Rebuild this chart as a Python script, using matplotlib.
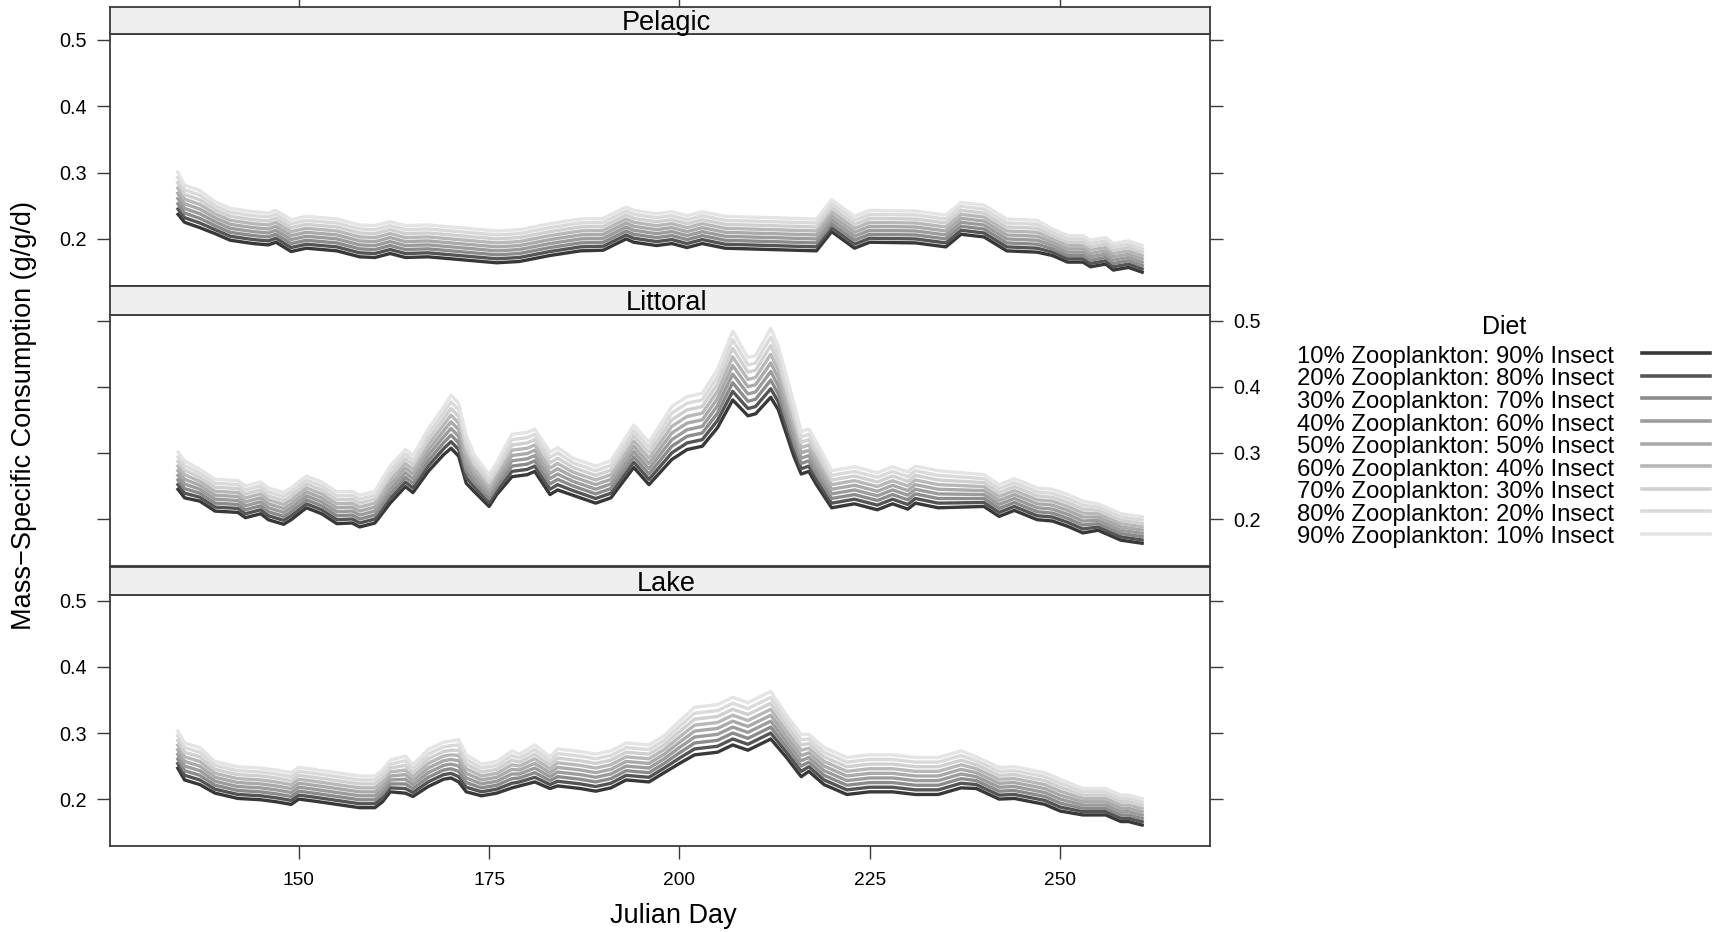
import numpy as np
import matplotlib
matplotlib.use('Agg')
import matplotlib.pyplot as plt
from matplotlib.lines import Line2D

plt.rcParams['font.family'] = ['Liberation Sans', 'DejaVu Sans']

# diet groups (legend order) and their grey shades
diets = ['10% Zooplankton: 90% Insect', '20% Zooplankton: 80% Insect',
         '30% Zooplankton: 70% Insect', '40% Zooplankton: 60% Insect',
         '50% Zooplankton: 50% Insect', '60% Zooplankton: 40% Insect',
         '70% Zooplankton: 30% Insect', '80% Zooplankton: 20% Insect',
         '90% Zooplankton: 10% Insect']
greys = ['#383838', '#555555', '#8c8c8c', '#9c9c9c', '#aaaaaa',
         '#b8b8b8', '#d0d0d0', '#dadada', '#e4e4e4']

# consumption values in thousandths of g/g/d, one row per diet
pelagic_days = [134, 135, 137, 139, 141, 144, 146, 147, 149, 151, 155, 158, 160, 162, 164, 167,
                172, 176, 179, 183, 187, 190, 193, 194, 197, 199, 201, 203, 206, 218, 220, 223,
                225, 231, 235, 237, 240, 243, 247, 249, 251, 253, 254, 256, 257, 259, 261]
pelagic = [
    [239, 225, 217, 208, 198, 193, 191, 195, 181, 186, 182, 173, 172, 178, 172, 173, 168, 164, 166, 175, 182, 183, 200, 195, 190, 193, 187, 193, 186, 182, 211, 186, 195, 194, 188, 207, 203, 182, 180, 175, 165, 165, 158, 162, 153, 157, 149],
    [247, 232, 224, 214, 204, 199, 197, 201, 187, 192, 188, 179, 178, 184, 178, 179, 174, 170, 172, 181, 188, 189, 206, 201, 196, 199, 193, 199, 192, 188, 217, 192, 201, 200, 194, 213, 209, 188, 186, 180, 170, 170, 163, 167, 158, 162, 154],
    [255, 239, 231, 220, 210, 205, 203, 207, 193, 198, 194, 185, 184, 190, 184, 185, 180, 176, 178, 187, 194, 195, 212, 207, 202, 205, 199, 205, 198, 194, 223, 198, 207, 206, 200, 219, 215, 194, 192, 185, 175, 175, 168, 172, 163, 167, 159],
    [263, 246, 238, 226, 216, 211, 209, 213, 199, 204, 200, 191, 190, 196, 190, 191, 186, 182, 184, 193, 200, 201, 218, 213, 208, 211, 205, 211, 204, 200, 229, 204, 213, 212, 206, 225, 221, 200, 198, 190, 180, 180, 173, 177, 168, 172, 164],
    [271, 253, 245, 232, 222, 217, 215, 219, 205, 210, 206, 197, 196, 202, 196, 197, 192, 188, 190, 199, 206, 207, 224, 219, 214, 217, 211, 217, 210, 206, 235, 210, 219, 218, 212, 231, 227, 206, 204, 195, 185, 185, 178, 182, 173, 177, 169],
    [279, 260, 252, 238, 228, 223, 221, 225, 211, 216, 212, 203, 202, 208, 202, 203, 198, 194, 196, 205, 212, 213, 230, 225, 220, 223, 217, 223, 216, 212, 241, 216, 225, 224, 218, 237, 233, 212, 210, 200, 190, 190, 183, 187, 178, 182, 174],
    [287, 267, 259, 244, 234, 229, 227, 231, 217, 222, 218, 209, 208, 214, 208, 209, 204, 200, 202, 211, 218, 219, 236, 231, 226, 229, 223, 229, 222, 218, 247, 222, 231, 230, 224, 243, 239, 218, 216, 205, 195, 195, 188, 192, 183, 187, 179],
    [295, 274, 266, 250, 240, 235, 233, 237, 223, 228, 224, 215, 214, 220, 214, 215, 210, 206, 208, 217, 224, 225, 242, 237, 232, 235, 229, 235, 228, 224, 253, 228, 237, 236, 230, 249, 245, 224, 222, 210, 200, 200, 193, 197, 188, 192, 184],
    [303, 281, 273, 256, 246, 241, 239, 243, 229, 234, 230, 221, 220, 226, 220, 221, 216, 212, 214, 223, 230, 231, 248, 243, 238, 241, 235, 241, 234, 230, 259, 234, 243, 242, 236, 255, 251, 230, 228, 215, 205, 205, 198, 202, 193, 197, 189],
]

littoral_days = [134, 135, 137, 139, 142, 143, 145, 146, 148, 149, 151, 153, 155, 157, 158, 160, 162,
                 164, 165, 167, 169, 170, 171, 172, 173, 175, 176, 178, 180, 181, 183, 184, 186, 187,
                 189, 191, 194, 196, 199, 201, 203, 205, 207, 209, 210, 212, 213, 215, 216, 217, 218,
                 220, 223, 226, 228, 230, 231, 234, 240, 242, 244, 247, 249, 251, 253, 255, 258, 261]
littoral = [
    [247, 232, 227, 212, 210, 202, 208, 199, 192, 199, 217, 208, 193, 194, 188, 194, 224, 249, 240, 272, 297, 307, 295, 254, 242, 219, 237, 264, 267, 272, 237, 244, 236, 232, 224, 232, 278, 252, 290, 305, 310, 338, 380, 356, 359, 384, 365, 296, 268, 272, 252, 217, 223, 214, 223, 215, 224, 217, 219, 204, 213, 199, 197, 189, 179, 183, 168, 163],
    [254, 239, 233, 218, 216, 208, 214, 205, 198, 205, 223, 214, 199, 200, 194, 200, 231, 256, 247, 280, 306, 317, 305, 263, 249, 225, 243, 272, 275, 280, 245, 252, 243, 239, 231, 239, 286, 260, 300, 315, 320, 349, 393, 367, 370, 397, 377, 306, 276, 280, 260, 224, 230, 221, 230, 222, 231, 224, 225, 210, 219, 205, 203, 195, 185, 188, 173, 168],
    [261, 246, 239, 224, 222, 214, 220, 211, 204, 211, 229, 220, 205, 206, 200, 206, 238, 263, 254, 288, 315, 327, 315, 272, 256, 231, 249, 280, 283, 288, 253, 260, 250, 246, 238, 246, 294, 268, 310, 325, 330, 360, 406, 378, 381, 410, 389, 316, 284, 288, 268, 231, 237, 228, 237, 229, 238, 231, 231, 216, 225, 211, 209, 201, 191, 193, 178, 173],
    [268, 253, 245, 230, 228, 220, 226, 217, 210, 217, 235, 226, 211, 212, 206, 212, 245, 270, 261, 296, 324, 337, 325, 281, 263, 237, 255, 288, 291, 296, 261, 268, 257, 253, 245, 253, 302, 276, 320, 335, 340, 371, 419, 389, 392, 423, 401, 326, 292, 296, 276, 238, 244, 235, 244, 236, 245, 238, 237, 222, 231, 217, 215, 207, 197, 198, 183, 178],
    [275, 260, 251, 236, 234, 226, 232, 223, 216, 223, 241, 232, 217, 218, 212, 218, 252, 277, 268, 304, 333, 347, 335, 290, 270, 243, 261, 296, 299, 304, 269, 276, 264, 260, 252, 260, 310, 284, 330, 345, 350, 382, 432, 400, 403, 436, 413, 336, 300, 304, 284, 245, 251, 242, 251, 243, 252, 245, 243, 228, 237, 223, 221, 213, 203, 203, 188, 183],
    [282, 267, 257, 242, 240, 232, 238, 229, 222, 229, 247, 238, 223, 224, 218, 224, 259, 284, 275, 312, 342, 357, 345, 299, 277, 249, 267, 304, 307, 312, 277, 284, 271, 267, 259, 267, 318, 292, 340, 355, 360, 393, 445, 411, 414, 449, 425, 346, 308, 312, 292, 252, 258, 249, 258, 250, 259, 252, 249, 234, 243, 229, 227, 219, 209, 208, 193, 188],
    [289, 274, 263, 248, 246, 238, 244, 235, 228, 235, 253, 244, 229, 230, 224, 230, 266, 291, 282, 320, 351, 367, 355, 308, 284, 255, 273, 312, 315, 320, 285, 292, 278, 274, 266, 274, 326, 300, 350, 365, 370, 404, 458, 422, 425, 462, 437, 356, 316, 320, 300, 259, 265, 256, 265, 257, 266, 259, 255, 240, 249, 235, 233, 225, 215, 213, 198, 193],
    [296, 281, 269, 254, 252, 244, 250, 241, 234, 241, 259, 250, 235, 236, 230, 236, 273, 298, 289, 328, 360, 377, 365, 317, 291, 261, 279, 320, 323, 328, 293, 300, 285, 281, 273, 281, 334, 308, 360, 375, 380, 415, 471, 433, 436, 475, 449, 366, 324, 328, 308, 266, 272, 263, 272, 264, 273, 266, 261, 246, 255, 241, 239, 231, 221, 218, 203, 198],
    [303, 288, 275, 260, 258, 250, 256, 247, 240, 247, 265, 256, 241, 242, 236, 242, 280, 305, 296, 336, 369, 387, 375, 326, 298, 267, 285, 328, 331, 336, 301, 308, 292, 288, 280, 288, 342, 316, 370, 385, 390, 426, 484, 444, 447, 488, 461, 376, 332, 336, 316, 273, 279, 270, 279, 271, 280, 273, 267, 252, 261, 247, 245, 237, 227, 223, 208, 203],
]

lake_days = [134, 135, 137, 139, 142, 145, 147, 149, 150, 152, 155, 158, 160, 161, 162, 164, 165,
             167, 169, 170, 171, 172, 174, 176, 178, 179, 181, 183, 184, 187, 189, 191, 193, 196,
             198, 200, 202, 205, 207, 209, 212, 214, 216, 217, 219, 222, 225, 228, 231, 234, 237,
             239, 242, 244, 248, 250, 253, 256, 258, 259, 261]
lake = [
    [249, 229, 222, 209, 201, 199, 196, 192, 200, 197, 192, 187, 187, 196, 211, 209, 204, 219, 230, 232, 226, 211, 205, 209, 217, 220, 226, 216, 220, 216, 212, 217, 229, 226, 240, 254, 267, 271, 282, 274, 291, 264, 234, 242, 222, 207, 211, 211, 207, 207, 217, 216, 200, 201, 192, 182, 176, 176, 166, 166, 160],
    [256, 236, 229, 215, 207, 205, 202, 198, 206, 203, 198, 193, 193, 202, 217, 216, 210, 226, 237, 239, 234, 218, 211, 215, 224, 226, 233, 222, 227, 223, 219, 224, 236, 233, 247, 262, 276, 280, 291, 283, 300, 272, 242, 249, 229, 214, 218, 218, 214, 214, 224, 222, 206, 207, 198, 188, 181, 181, 171, 171, 165],
    [263, 243, 236, 221, 213, 211, 208, 204, 212, 209, 204, 199, 199, 208, 223, 223, 216, 233, 244, 246, 242, 225, 217, 221, 231, 232, 240, 228, 234, 230, 226, 231, 243, 240, 254, 270, 285, 289, 300, 292, 309, 280, 250, 256, 236, 221, 225, 225, 221, 221, 231, 228, 212, 213, 204, 194, 186, 186, 176, 176, 170],
    [270, 250, 243, 227, 219, 217, 214, 210, 218, 215, 210, 205, 205, 214, 229, 230, 222, 240, 251, 253, 250, 232, 223, 227, 238, 238, 247, 234, 241, 237, 233, 238, 250, 247, 261, 278, 294, 298, 309, 301, 318, 288, 258, 263, 243, 228, 232, 232, 228, 228, 238, 234, 218, 219, 210, 200, 191, 191, 181, 181, 175],
    [277, 257, 250, 233, 225, 223, 220, 216, 224, 221, 216, 211, 211, 220, 235, 237, 228, 247, 258, 260, 258, 239, 229, 233, 245, 244, 254, 240, 248, 244, 240, 245, 257, 254, 268, 286, 303, 307, 318, 310, 327, 296, 266, 270, 250, 235, 239, 239, 235, 235, 245, 240, 224, 225, 216, 206, 196, 196, 186, 186, 180],
    [284, 264, 257, 239, 231, 229, 226, 222, 230, 227, 222, 217, 217, 226, 241, 244, 234, 254, 265, 267, 266, 246, 235, 239, 252, 250, 261, 246, 255, 251, 247, 252, 264, 261, 275, 294, 312, 316, 327, 319, 336, 304, 274, 277, 257, 242, 246, 246, 242, 242, 252, 246, 230, 231, 222, 212, 201, 201, 191, 191, 185],
    [291, 271, 264, 245, 237, 235, 232, 228, 236, 233, 228, 223, 223, 232, 247, 251, 240, 261, 272, 274, 274, 253, 241, 245, 259, 256, 268, 252, 262, 258, 254, 259, 271, 268, 282, 302, 321, 325, 336, 328, 345, 312, 282, 284, 264, 249, 253, 253, 249, 249, 259, 252, 236, 237, 228, 218, 206, 206, 196, 196, 190],
    [298, 278, 271, 251, 243, 241, 238, 234, 242, 239, 234, 229, 229, 238, 253, 258, 246, 268, 279, 281, 282, 260, 247, 251, 266, 262, 275, 258, 269, 265, 261, 266, 278, 275, 289, 310, 330, 334, 345, 337, 354, 320, 290, 291, 271, 256, 260, 260, 256, 256, 266, 258, 242, 243, 234, 224, 211, 211, 201, 201, 195],
    [305, 285, 278, 257, 249, 247, 244, 240, 248, 245, 240, 235, 235, 244, 259, 265, 252, 275, 286, 288, 290, 267, 253, 257, 273, 268, 282, 264, 276, 272, 268, 273, 285, 282, 296, 318, 339, 343, 354, 346, 363, 328, 298, 298, 278, 263, 267, 267, 263, 263, 273, 264, 248, 249, 240, 230, 216, 216, 206, 206, 200],
]

W, H = 1713, 932
fig = plt.figure(figsize=(W / 100, H / 100), dpi=100)

x0, x1 = 110, 1210          # panel left/right in pixels
xlim = (125.2, 269.7)
ylim = (0.129, 0.509)
frame = '#3a3a3a'
tick_len = 9.4


def rect(top, bottom):
    return [x0 / W, 1 - bottom / H, (x1 - x0) / W, (bottom - top) / H]


panels = [
    ('Pelagic', pelagic_days, pelagic, (6.5, 34), (34, 286), 'left'),
    ('Littoral', littoral_days, littoral, (286, 314.6), (314.6, 566), 'right'),
    ('Lake', lake_days, lake, (567, 595), (595, 846), 'left'),
]

for name, days, rows, strip, body, side in panels:
    ax = fig.add_axes(rect(*body))
    for vals, col in zip(rows, greys):
        ax.plot(days, np.array(vals) / 1000, color=col, lw=2.4,
                solid_joinstyle='round', solid_capstyle='butt')
    ax.set_xlim(*xlim)
    ax.set_ylim(*ylim)
    ax.set_yticks([0.2, 0.3, 0.4, 0.5])
    ax.set_yticklabels(['0.2', '0.3', '0.4', '0.5'])
    ax.tick_params(axis='y', direction='out', length=tick_len, width=1, color=frame,
                   left=True, right=True, labelleft=(side == 'left'),
                   labelright=(side == 'right'), labelsize=14.3, pad=7)
    last = name == 'Lake'
    ax.set_xticks([150, 175, 200, 225, 250])
    ax.tick_params(axis='x', direction='out', length=tick_len, width=1, color=frame,
                   bottom=last, labelbottom=last, top=False, labelsize=13.8, pad=9)
    for sp in ax.spines.values():
        sp.set_color(frame)
        sp.set_linewidth(1.3)

    sax = fig.add_axes(rect(*strip))
    sax.set_facecolor('#eeeeee')
    sax.set_xlim(*xlim)
    sax.set_yticks([])
    if name == 'Pelagic':
        sax.set_xticks([150, 200, 250])
        sax.tick_params(axis='x', direction='out', length=tick_len, width=1, color=frame,
                        top=True, bottom=False, labeltop=False, labelbottom=False)
    else:
        sax.set_xticks([])
    for sp in sax.spines.values():
        sp.set_color(frame)
        sp.set_linewidth(1.3)
    sax.text(0.506, 0.16, name, transform=sax.transAxes, ha='center', va='baseline',
             fontsize=19.5)

fig.text(24 / W, 1 - 415 / H, 'Mass\u2212Specific Consumption (g/g/d)', rotation=90,
         ha='center', va='center', fontsize=19.5)
fig.text(673 / W, 1 - 916 / H, 'Julian Day', ha='center', va='center', fontsize=19.5)

# legend
fig.text(1504 / W, 1 - 334 / H, 'Diet', ha='center', va='baseline', fontsize=18)
for i, (lab, col) in enumerate(zip(diets, greys)):
    base = 362.7 + 22.6 * i
    fig.text(1614 / W, 1 - base / H, lab, ha='right', va='baseline', fontsize=17.2)
    yl = 1 - (base - 9.5) / H
    fig.add_artist(Line2D([1642 / W, 1710 / W], [yl, yl], color=col, lw=2.6,
                          transform=fig.transFigure))

fig.savefig('out.png', dpi=100)
